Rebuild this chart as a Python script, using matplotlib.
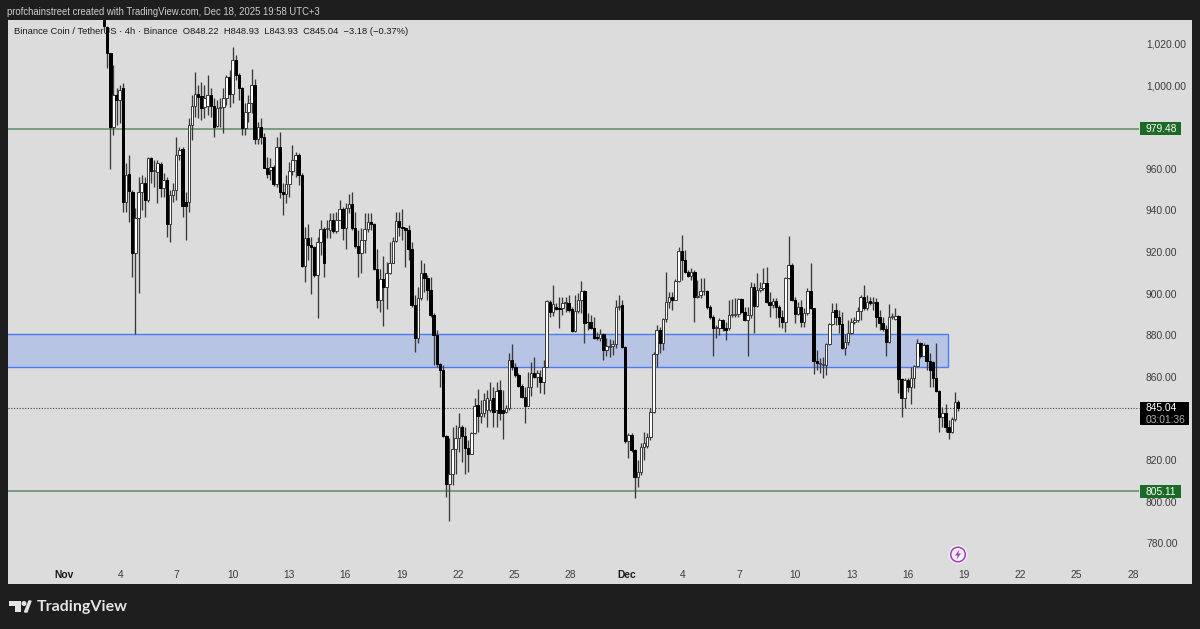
import matplotlib
matplotlib.use('Agg')
import matplotlib.pyplot as plt
from matplotlib.patches import Rectangle, Polygon, Circle

plt.rcParams['font.family'] = ['Liberation Sans', 'DejaVu Sans']

# 4h candles
opens = [
    1040, 1028.5, 1015.7, 980.1, 995.6, 993.2, 998.8, 944.3, 957.6, 949.1,
    919.5, 936.3, 948.8, 953.2, 945.1, 965.2, 959.2, 958.8, 962.4, 951.1,
    954.8, 933.6, 947.5, 949.9, 966.8, 969.5, 944.3, 944.3, 981.2, 990.3,
    996.1, 995.1, 989.7, 990.3, 995.6, 990.3, 980.7, 989.2, 990.0, 994.0,
    1004.4, 996.1, 1012.5, 1005.2, 998.8, 979.6, 987.6, 991.6, 1000.4, 974.3,
    980.1, 975.3, 960.8, 959.6, 961.2, 952.7, 970.8, 948.8, 948.3, 952.8,
    959.2, 964.4, 966.8, 957.2, 913.4, 926.7, 923.5, 922.7, 909.1, 925.1,
    931.1, 931.1, 930.8, 935.6, 930.4, 935.6, 940.7, 931.9, 941.2, 943.3,
    931.6, 923.2, 919.5, 925.9, 931.1, 934.8, 933.5, 911.8, 897.1, 907.0,
    903.2, 909.9, 915.0, 925.6, 935.2, 932.4, 931.6, 930.8, 921.5, 894.7,
    878.7, 897.9, 909.9, 907.5, 901.9, 889.9, 880.3, 866.3, 863.4, 831.7,
    808.9, 813.7, 825.3, 830.6, 836.2, 831.7, 825.8, 823.3, 833.0, 846.6,
    841.3, 842.6, 844.2, 844.2, 849.8, 844.2, 853.8, 844.2, 843.4, 845.0,
    868.2, 865.0, 861.1, 855.8, 850.7, 846.2, 855.5, 862.2, 860.3, 860.3,
    857.9, 865.1, 896.3, 891.5, 893.9, 893.1, 893.1, 895.5, 895.9, 892.7,
    882.4, 891.8, 897.1, 901.6, 886.7, 886.7, 883.5, 879.2, 878.7, 880.6,
    873.1, 874.7, 875.2, 876.0, 893.6, 894.7, 874.7, 829.5, 832.2, 825.0,
    811.9, 814.6, 826.6, 826.7, 831.1, 843.4, 871.2, 882.7, 876.3, 887.8,
    896.3, 898.7, 897.1, 906.4, 920.9, 916.4, 910.8, 908.7, 910.8, 898.7,
    899.5, 901.3, 901.6, 893.6, 888.8, 883.5, 883.5, 887.5, 883.5, 883.5,
    889.9, 889.7, 890.2, 897.6, 891.5, 887.5, 889.9, 903.5, 894.2, 901.9,
    902.7, 905.5, 896.3, 894.7, 896.8, 893.6, 888.8, 886.7, 907.6, 914.0,
    897.1, 890.4, 893.9, 886.7, 891.0, 901.6, 893.1, 868.0, 866.4, 865.8,
    866.0, 875.8, 885.6, 892.3, 888.8, 885.6, 873.9, 877.1, 881.1, 886.7,
    887.5, 891.8, 898.7, 893.1, 896.5, 895.9, 896.3, 888.8, 886.2, 883.0,
    877.1, 888.8, 888.0, 889.4, 859.0, 849.8, 858.7, 855.1, 859.5, 865.4,
    876.3, 870.2, 875.5, 868.0, 867.5, 859.5, 853.5, 840.7, 843.0, 836.2,
    833.5, 839.7, 848.22]
highs = [
    1045, 1029, 1016, 1010.1, 998.8, 1000.4, 1001.2, 962.8, 966.8, 949.9,
    941.1, 956.4, 957.2, 956.4, 966.0, 966.0, 964.4, 964.4, 963.6, 958.0,
    956.4, 949.9, 953.2, 975.6, 970.8, 970.8, 949.1, 984.4, 995.6, 1006.9,
    1000.4, 1002.0, 1000.4, 1005.2, 998.8, 994.0, 993.2, 994.0, 998.8, 1005.2,
    1007.7, 1018.9, 1014.9, 1006.0, 999.6, 991.6, 995.6, 1008.0, 1003.2, 982.8,
    984.4, 977.2, 966.0, 965.2, 962.0, 975.6, 978.0, 953.2, 957.2, 963.6,
    971.6, 968.4, 967.9, 958.0, 932.3, 933.6, 927.5, 923.0, 927.5, 935.6,
    932.4, 935.6, 938.8, 938.8, 939.6, 945.2, 942.0, 943.6, 948.1, 949.2,
    939.6, 930.8, 931.6, 938.8, 938.8, 938.8, 934.0, 921.5, 911.8, 918.3,
    915.5, 925.1, 927.2, 939.6, 939.6, 940.7, 932.4, 933.2, 925.1, 899.5,
    903.5, 916.3, 914.7, 909.1, 908.3, 890.7, 882.7, 866.6, 865.8, 832.2,
    830.6, 836.2, 837.0, 842.6, 837.0, 836.2, 829.8, 833.8, 849.8, 854.1,
    849.0, 852.2, 853.8, 857.8, 855.4, 857.8, 858.6, 853.8, 846.5, 871.4,
    875.9, 866.7, 862.0, 856.5, 855.5, 862.7, 867.5, 869.9, 863.5, 863.5,
    868.3, 897.1, 897.1, 904.4, 895.5, 898.7, 898.7, 898.7, 899.5, 893.9,
    899.5, 900.3, 906.4, 902.0, 890.7, 890.0, 888.8, 881.9, 883.0, 881.1,
    878.7, 878.2, 877.9, 897.1, 899.5, 897.1, 875.0, 833.0, 833.0, 825.5,
    820.0, 828.2, 833.8, 833.0, 845.0, 872.0, 885.1, 884.0, 888.5, 910.8,
    901.1, 901.0, 907.0, 922.5, 928.4, 921.0, 911.5, 912.4, 911.5, 906.8,
    907.6, 907.6, 902.0, 894.7, 890.0, 885.0, 888.3, 888.0, 886.5, 897.1,
    897.5, 897.9, 897.9, 898.0, 893.6, 893.9, 906.0, 905.2, 910.0, 906.0,
    912.4, 913.2, 901.1, 898.0, 898.0, 894.7, 892.3, 908.4, 927.9, 914.8,
    898.7, 896.3, 897.1, 893.1, 903.0, 914.8, 893.5, 873.0, 869.0, 869.9,
    876.5, 886.0, 895.9, 895.9, 892.3, 891.5, 881.0, 887.5, 888.3, 889.0,
    893.9, 899.5, 904.3, 899.5, 898.7, 898.7, 897.9, 892.3, 888.8, 885.1,
    895.2, 890.7, 893.1, 890.0, 859.5, 859.5, 859.5, 865.0, 865.9, 878.2,
    877.0, 876.5, 876.0, 871.5, 868.0, 876.3, 854.0, 845.8, 847.1, 839.4,
    841.0, 853.0, 848.93]
lows = [
    1027, 1008.5, 960.0, 976.4, 981.2, 982.0, 939.5, 939.5, 934.7, 908.3,
    881.0, 900.3, 940.3, 937.1, 944.3, 953.2, 951.6, 943.5, 946.7, 946.7,
    927.5, 925.1, 944.3, 945.1, 964.4, 937.1, 925.9, 939.5, 974.0, 985.2,
    984.4, 983.6, 984.4, 986.0, 985.2, 975.6, 980.4, 980.4, 977.2, 990.8,
    990.0, 991.6, 1002.8, 993.2, 976.4, 976.4, 982.8, 986.8, 972.1, 972.1,
    972.1, 960.4, 955.6, 954.8, 952.0, 951.6, 945.9, 937.9, 943.5, 946.7,
    957.2, 956.4, 952.4, 913.1, 905.9, 916.3, 899.9, 908.3, 888.3, 918.7,
    908.0, 926.7, 926.7, 929.2, 929.5, 935.6, 925.9, 921.5, 938.8, 930.8,
    921.9, 908.0, 909.9, 919.5, 930.0, 930.8, 911.5, 893.1, 891.5, 884.6,
    892.6, 909.5, 914.7, 925.1, 927.9, 925.9, 912.8, 916.3, 893.9, 872.2,
    876.3, 897.1, 901.1, 897.1, 889.1, 865.8, 865.0, 855.4, 831.4, 802.5,
    791.0, 808.1, 813.7, 824.2, 819.3, 813.7, 814.5, 823.0, 832.5, 833.8,
    837.8, 841.0, 836.2, 843.4, 836.2, 836.2, 839.4, 830.1, 842.6, 844.2,
    863.4, 860.3, 855.5, 850.2, 837.8, 850.7, 851.1, 859.5, 855.5, 852.3,
    851.9, 864.8, 889.1, 889.4, 892.3, 883.5, 889.9, 891.5, 891.5, 881.9,
    881.9, 890.7, 891.0, 876.3, 882.7, 883.0, 878.2, 877.9, 877.5, 868.3,
    870.2, 869.9, 870.7, 874.0, 892.3, 874.0, 828.2, 821.0, 824.0, 801.8,
    807.4, 813.0, 820.2, 825.8, 830.0, 843.0, 865.1, 871.5, 873.1, 886.5,
    893.1, 892.3, 897.1, 906.0, 906.8, 910.0, 908.0, 906.8, 886.7, 898.0,
    898.0, 899.5, 893.0, 888.0, 870.2, 878.7, 880.3, 882.0, 877.9, 882.5,
    888.8, 888.8, 889.0, 890.7, 887.2, 870.2, 888.3, 881.1, 893.6, 901.1,
    902.0, 895.5, 888.8, 893.1, 888.3, 884.3, 883.5, 881.9, 907.0, 896.8,
    885.9, 890.0, 884.3, 884.3, 890.0, 892.7, 861.5, 863.5, 861.9, 859.5,
    861.1, 875.5, 885.0, 885.1, 881.1, 873.5, 870.7, 875.5, 881.0, 885.5,
    886.7, 887.5, 892.3, 892.3, 894.5, 892.3, 884.3, 882.7, 882.0, 870.2,
    876.3, 888.0, 887.5, 852.3, 840.7, 845.0, 853.0, 847.1, 854.7, 865.0,
    869.0, 870.0, 863.5, 855.5, 855.5, 853.0, 833.8, 836.2, 833.8, 830.1,
    833.0, 839.0, 843.93]
closes = [
    1028.8, 1015.7, 980.1, 995.6, 993.2, 998.0, 944.3, 957.2, 949.6, 919.5,
    936.3, 948.8, 953.2, 945.1, 965.2, 959.2, 959.6, 962.8, 951.1, 954.8,
    933.6, 947.5, 949.9, 966.8, 969.2, 942.4, 942.4, 981.2, 990.3, 996.1,
    994.5, 989.2, 994.0, 995.6, 990.3, 980.4, 989.2, 990.0, 994.0, 1004.4,
    996.1, 1012.5, 1005.2, 998.8, 979.6, 987.6, 991.6, 1000.4, 974.3, 980.1,
    975.3, 960.8, 957.6, 961.2, 952.7, 970.8, 948.8, 948.3, 952.8, 959.2,
    964.4, 966.8, 957.2, 913.4, 926.7, 923.5, 922.7, 909.1, 925.1, 931.1,
    915.0, 931.6, 935.6, 930.4, 935.6, 940.7, 931.9, 941.2, 943.3, 931.6,
    923.2, 919.5, 925.9, 931.1, 934.8, 933.5, 911.8, 897.1, 907.0, 903.2,
    909.9, 915.0, 925.6, 935.2, 932.4, 931.6, 930.8, 921.5, 894.7, 878.7,
    897.9, 909.9, 907.5, 901.9, 889.9, 880.3, 866.3, 863.4, 831.7, 808.9,
    813.7, 825.3, 830.6, 836.2, 831.7, 825.8, 823.3, 833.0, 846.1, 841.3,
    842.6, 849.0, 849.8, 849.0, 843.4, 853.5, 842.6, 842.6, 845.0, 868.2,
    865.0, 861.1, 855.8, 850.7, 846.2, 855.5, 862.2, 860.3, 861.9, 857.9,
    865.1, 896.8, 891.5, 895.2, 892.7, 892.7, 895.9, 896.3, 892.3, 882.4,
    891.8, 897.1, 901.6, 886.2, 886.4, 883.5, 878.7, 878.7, 880.6, 873.1,
    875.2, 875.2, 876.0, 893.6, 894.2, 874.7, 829.5, 832.2, 825.0, 811.9,
    814.6, 826.6, 828.2, 831.1, 843.4, 871.2, 882.7, 876.3, 887.8, 896.3,
    898.7, 897.1, 906.4, 920.9, 916.4, 910.8, 908.7, 910.8, 898.7, 899.2,
    901.6, 901.6, 893.6, 888.8, 883.5, 884.0, 887.5, 883.5, 882.8, 889.9,
    890.0, 890.2, 897.6, 891.5, 887.5, 889.9, 903.5, 894.2, 901.9, 902.7,
    905.5, 896.3, 894.7, 896.8, 893.6, 888.8, 886.7, 907.6, 914.0, 897.1,
    890.4, 893.9, 886.7, 891.0, 901.6, 893.1, 868.0, 867.0, 866.7, 866.4,
    875.8, 885.6, 891.5, 888.8, 885.6, 873.9, 877.1, 881.1, 886.7, 887.5,
    891.8, 898.7, 893.1, 896.3, 895.9, 896.3, 888.8, 886.2, 883.0, 877.1,
    888.8, 889.2, 889.4, 859.0, 849.8, 858.7, 855.1, 859.5, 865.4, 876.3,
    870.2, 875.5, 868.0, 863.5, 859.5, 853.5, 840.7, 843.0, 836.2, 833.5,
    839.7, 848.2, 845.04]

price_ticks = [780, 800, 820, 860, 880, 900, 920, 940, 960, 1000, 1020]
time_labels = ['Nov', '4', '7', '10', '13', '16', '19', '22', '25', '28',
               'Dec', '4', '7', '10', '13', '16', '19', '22', '25', '28']
zone_low, zone_high = 864.9, 880.7
support, resistance = 805.11, 979.48
last_close = 845.04

bg = '#1e1e1e'
pane = '#dcdcdc'
black_text = '#1a1a1a'
grey_text = '#3c3c3c'
green = '#5f8a63'
label_green = '#1b6a26'
blue = '#4a7df0'
blue_fill = '#b8c4e3'

fig = plt.figure(figsize=(12, 6.29), dpi=100, facecolor=bg)
# pane runs 8..1192 px across and 20..584 px down
ax = fig.add_axes([8 / 1200, 1 - 584 / 629, 1184 / 1200, 564 / 629], facecolor=pane)
step = 3.14
def idx(px):
    return (px - 104.0) / step
ax.set_xlim(idx(8), idx(1192))
ax.set_ylim(760.6, 1031.7)
for s in ax.spines.values():
    s.set_visible(False)
ax.set_xticks([])
ax.set_yticks([])

xs = list(range(len(opens)))
ax.vlines(xs, lows, highs, color='#3a3a3a', linewidth=0.95, zorder=4)
for x, o, c in zip(xs, opens, closes):
    up = c >= o
    ax.add_patch(Rectangle((x - 0.4, min(o, c)), 0.8, max(abs(c - o), 0.3),
                           facecolor='white' if up else 'black',
                           edgecolor='#3a3a3a' if up else 'black', linewidth=0.7, zorder=5))

# levels and zone
right = idx(1139)
ax.hlines([support, resistance], idx(8), right, color=green, linewidth=1.1, zorder=2)
ax.hlines(last_close, idx(8), right, color='#444444', linewidth=0.8, linestyle=(0, (1, 1.5)), zorder=2)
ax.add_patch(Rectangle((idx(0), zone_low), idx(948.5) - idx(0), zone_high - zone_low,
                       facecolor=blue_fill, edgecolor=blue, linewidth=1.0, zorder=3))

# price axis
label_x = idx(1146)
for p in price_ticks:
    txt = format(p, ',.2f')
    ax.text(label_x, p - 0.25, txt, fontsize=7.4, color=grey_text, ha='left', va='center', zorder=6)

for level in (resistance, support):
    ax.add_patch(Rectangle((idx(1140), level - 3), idx(1181) - idx(1140), 6,
                           facecolor=label_green, edgecolor='none', zorder=7))
    ax.text(label_x, level - 0.25, format(level, '.2f'), fontsize=7.4, color='white',
            ha='left', va='center', zorder=8)

ax.add_patch(Rectangle((idx(1140), last_close - 8.1), idx(1188.5) - idx(1140), 11.2,
                       facecolor='black', edgecolor='none', zorder=7))
ax.text(label_x, last_close, format(last_close, '.2f'), fontsize=7.4, color='white',
        ha='left', va='center', zorder=8)
ax.text(label_x, last_close - 5.4, '03:01:36', fontsize=7.4, color='#b0b0b0',
        ha='left', va='center', zorder=8)

# time axis, labels 56.26 px apart
for i, lab in enumerate(time_labels):
    bold = lab in ('Nov', 'Dec')
    ax.text(idx(64 + 56.26 * i), 0.016, lab, transform=ax.get_xaxis_transform(),
            fontsize=7.4, color=black_text if bold else grey_text,
            fontweight='bold' if bold else 'normal', ha='center', va='center', zorder=6)

# legend line, candles run over it
ax.text(idx(14), 1026.4,
        'Binance Coin / TetherUS \u00b7 4h \u00b7 Binance  O848.22  H848.93  L843.93  C845.04  \u22123.18 (\u22120.37%)',
        fontsize=6.75, color=black_text, ha='left', va='center', zorder=3)

# full figure overlay in pixels for header and logos
ov = fig.add_axes([0, 0, 1, 1], facecolor='none')
ov.set_xlim(0, 1200)
ov.set_ylim(629, 0)
ov.axis('off')
ov.text(7, 12, 'profchainstreet created with TradingView.com, Dec 18, 2025 19:58 UTC+3',
        fontsize=6.85, color='#cfcfcf', ha='left', va='center')

# alert badge
ov.add_patch(Circle((958, 554.5), 9.5, facecolor='#f2f2f2', edgecolor='none'))
ov.add_patch(Circle((958, 554.5), 7.3, facecolor='#f2f2f2', edgecolor='#a83cc4', linewidth=1.1))
ov.add_patch(Polygon([(959.5, 549.5), (955, 555.5), (957.7, 555.5), (956.5, 559.5), (961, 553.5), (958.3, 553.5)],
                     closed=True, facecolor='#a83cc4', edgecolor='none'))

# TradingView mark
logo = '#e4e4e4'
ov.add_patch(Polygon([(9, 601), (21, 601), (21, 612), (15, 612), (15, 606), (9, 606)], closed=True,
                     facecolor=logo, edgecolor='none'))
ov.add_patch(Circle((24, 603.5), 2.5, facecolor=logo, edgecolor='none'))
ov.add_patch(Polygon([(24.5, 612), (29, 601), (31, 601), (27, 612)], closed=True,
                     facecolor=logo, edgecolor=logo, linewidth=1.0))
ov.text(36.5, 606.5, 'TradingView', fontsize=11.5, color=logo, fontweight='bold',
        family=['Lato', 'DejaVu Sans'], ha='left', va='center')

fig.savefig('out.png', dpi=100, facecolor=bg)
